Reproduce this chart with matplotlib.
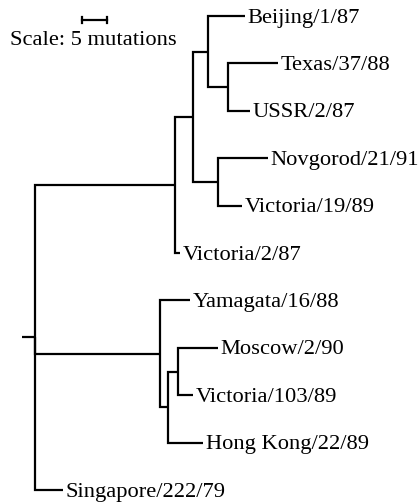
import matplotlib.pyplot as plt

# tree: node name, parent, branch length (mutations)
node_names = ['root', 'E', 'C', 'A', 'B', 'D', 'F', 'G', 'H',
              'Beijing/1/87', 'Texas/37/88', 'USSR/2/87', 'Novgorod/21/91',
              'Victoria/19/89', 'Victoria/2/87', 'Yamagata/16/88', 'Moscow/2/90',
              'Victoria/103/89', 'Hong Kong/22/89', 'Singapore/222/79']
node_parent = [None, 'root', 'E', 'C', 'A', 'C', 'root', 'F', 'G',
               'A', 'B', 'B', 'D',
               'D', 'E', 'F', 'H',
               'H', 'G', 'root']
branch_len = [2.6, 28, 3.6, 3, 4, 5, 25, 1.6, 2,
              7.4, 10, 4.4, 10,
              4.8, 1, 6, 8,
              3, 7, 5.6]
# leaves top to bottom
leaf_order = ['Beijing/1/87', 'Texas/37/88', 'USSR/2/87', 'Novgorod/21/91',
              'Victoria/19/89', 'Victoria/2/87', 'Yamagata/16/88', 'Moscow/2/90',
              'Victoria/103/89', 'Hong Kong/22/89', 'Singapore/222/79']
scale_len = 5

parent = dict(zip(node_names, node_parent))
blen = dict(zip(node_names, branch_len))
children = {n: [] for n in node_names}
for n, p in zip(node_names, node_parent):
    if p is not None:
        children[p].append(n)

xpos = {}
def get_x(n):
    if n not in xpos:
        xpos[n] = 0 if parent[n] is None else get_x(parent[n]) + blen[n]
    return xpos[n]

ypos = {name: i for i, name in enumerate(leaf_order)}
def get_y(n):
    if n not in ypos:
        ys = sorted(get_y(c) for c in children[n])
        ypos[n] = (ys[0] + ys[-1]) / 2
    return ypos[n]

for n in node_names:
    get_x(n); get_y(n)

plt.rcParams['font.family'] = ['Liberation Serif', 'DejaVu Serif']
fig = plt.figure(figsize=(4.19, 5.04), dpi=100)
ax = fig.add_axes([0, 0, 1, 1])
lw = 1.6
fs = 16.2

for n in node_names:
    p = parent[n]
    x1, y1 = xpos[n], ypos[n]
    if p is None:
        ax.plot([x1 - blen[n], x1], [y1, y1], color='black', lw=lw, solid_capstyle='butt')
        continue
    x0, y0 = xpos[p], ypos[p]
    ax.plot([x0, x0, x1], [y0, y1, y1], color='black', lw=lw,
            solid_joinstyle='miter', solid_capstyle='butt')

for name in leaf_order:
    ax.annotate(name, (xpos[name], ypos[name]), xytext=(2.0, -4.8),
                textcoords='offset points', ha='left', va='baseline',
                fontsize=fs, color='black')

# scale bar
sx0, sy = 9.4, 0.084
ax.plot([sx0, sx0 + scale_len], [sy, sy], color='black', lw=lw)
ax.plot([sx0, sx0], [sy - 0.06, sy + 0.06], color='black', lw=lw)
ax.plot([sx0 + scale_len, sx0 + scale_len], [sy - 0.06, sy + 0.06], color='black', lw=lw)
ax.text(sx0 + scale_len / 2 - 0.3, 0.52, 'Scale: 5 mutations', ha='center', va='center',
        fontsize=fs, color='black')

ax.set_xlim(-7, 76.8)
ax.set_ylim(10.295, -0.3376)
ax.axis('off')
fig.savefig('out.png', dpi=100)
